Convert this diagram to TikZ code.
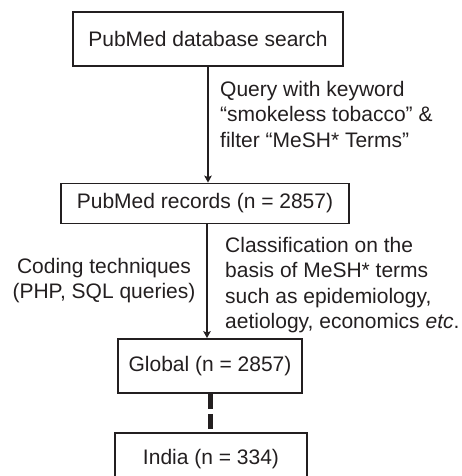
\documentclass[tikz,border=0pt]{standalone}
\usepackage{fontspec}
\setmainfont{Liberation Sans}
\usetikzlibrary{arrows.meta}
\definecolor{ink}{HTML}{231F20}
\begin{document}
\begin{tikzpicture}[x=1pt,y=-1pt,
  font=\fontsize{21}{25.5}\selectfont,
  box/.style={draw=ink, line width=1.8pt, text=ink, inner sep=0pt, fill=white},
  lbl/.style={text=ink, inner sep=0pt},
  flow/.style={draw=ink, line width=2.2pt, -{Stealth[length=7pt,width=7.5pt,inset=1.5pt]}},
  link/.style={draw=ink, line width=5pt, dash pattern=on 15pt off 5pt}]
\useasboundingbox (0,0) rectangle (462,476);
\node[box, minimum width=270pt, minimum height=54pt] (search) at (208,39) {PubMed database search};
\node[box, minimum width=288pt, minimum height=40pt] (records) at (205,203.5) {PubMed records (n = 2857)};
\node[box, minimum width=184pt, minimum height=54pt] (global) at (210,366) {Global (n = 2857)};
\node[box, minimum width=192pt, minimum height=52pt] (india) at (211,459) {India (n = 334)};
\draw[flow] (search.south) -- (search.south |- records.north);
\draw[flow] ([xshift=2pt]records.south) -- ([xshift=2pt]records.south |- global.north);
\draw[link] (global.south) -- (global.south |- india.north);
\node[lbl, anchor=north west, align=left] (query) at (220,80.7) {Query with keyword\\“smokeless tobacco” \&\\filter “MeSH* Terms”};
\node[lbl, anchor=north, align=center] (coding) at (104,257.7) {Coding techniques\\(PHP, SQL queries)};
\node[lbl, anchor=north west, align=left] (classif) at (225,236.7) {Classification on the\\basis of MeSH* terms\\such as epidemiology,\\aetiology, economics \textit{etc}.};
\end{tikzpicture}
\end{document}
